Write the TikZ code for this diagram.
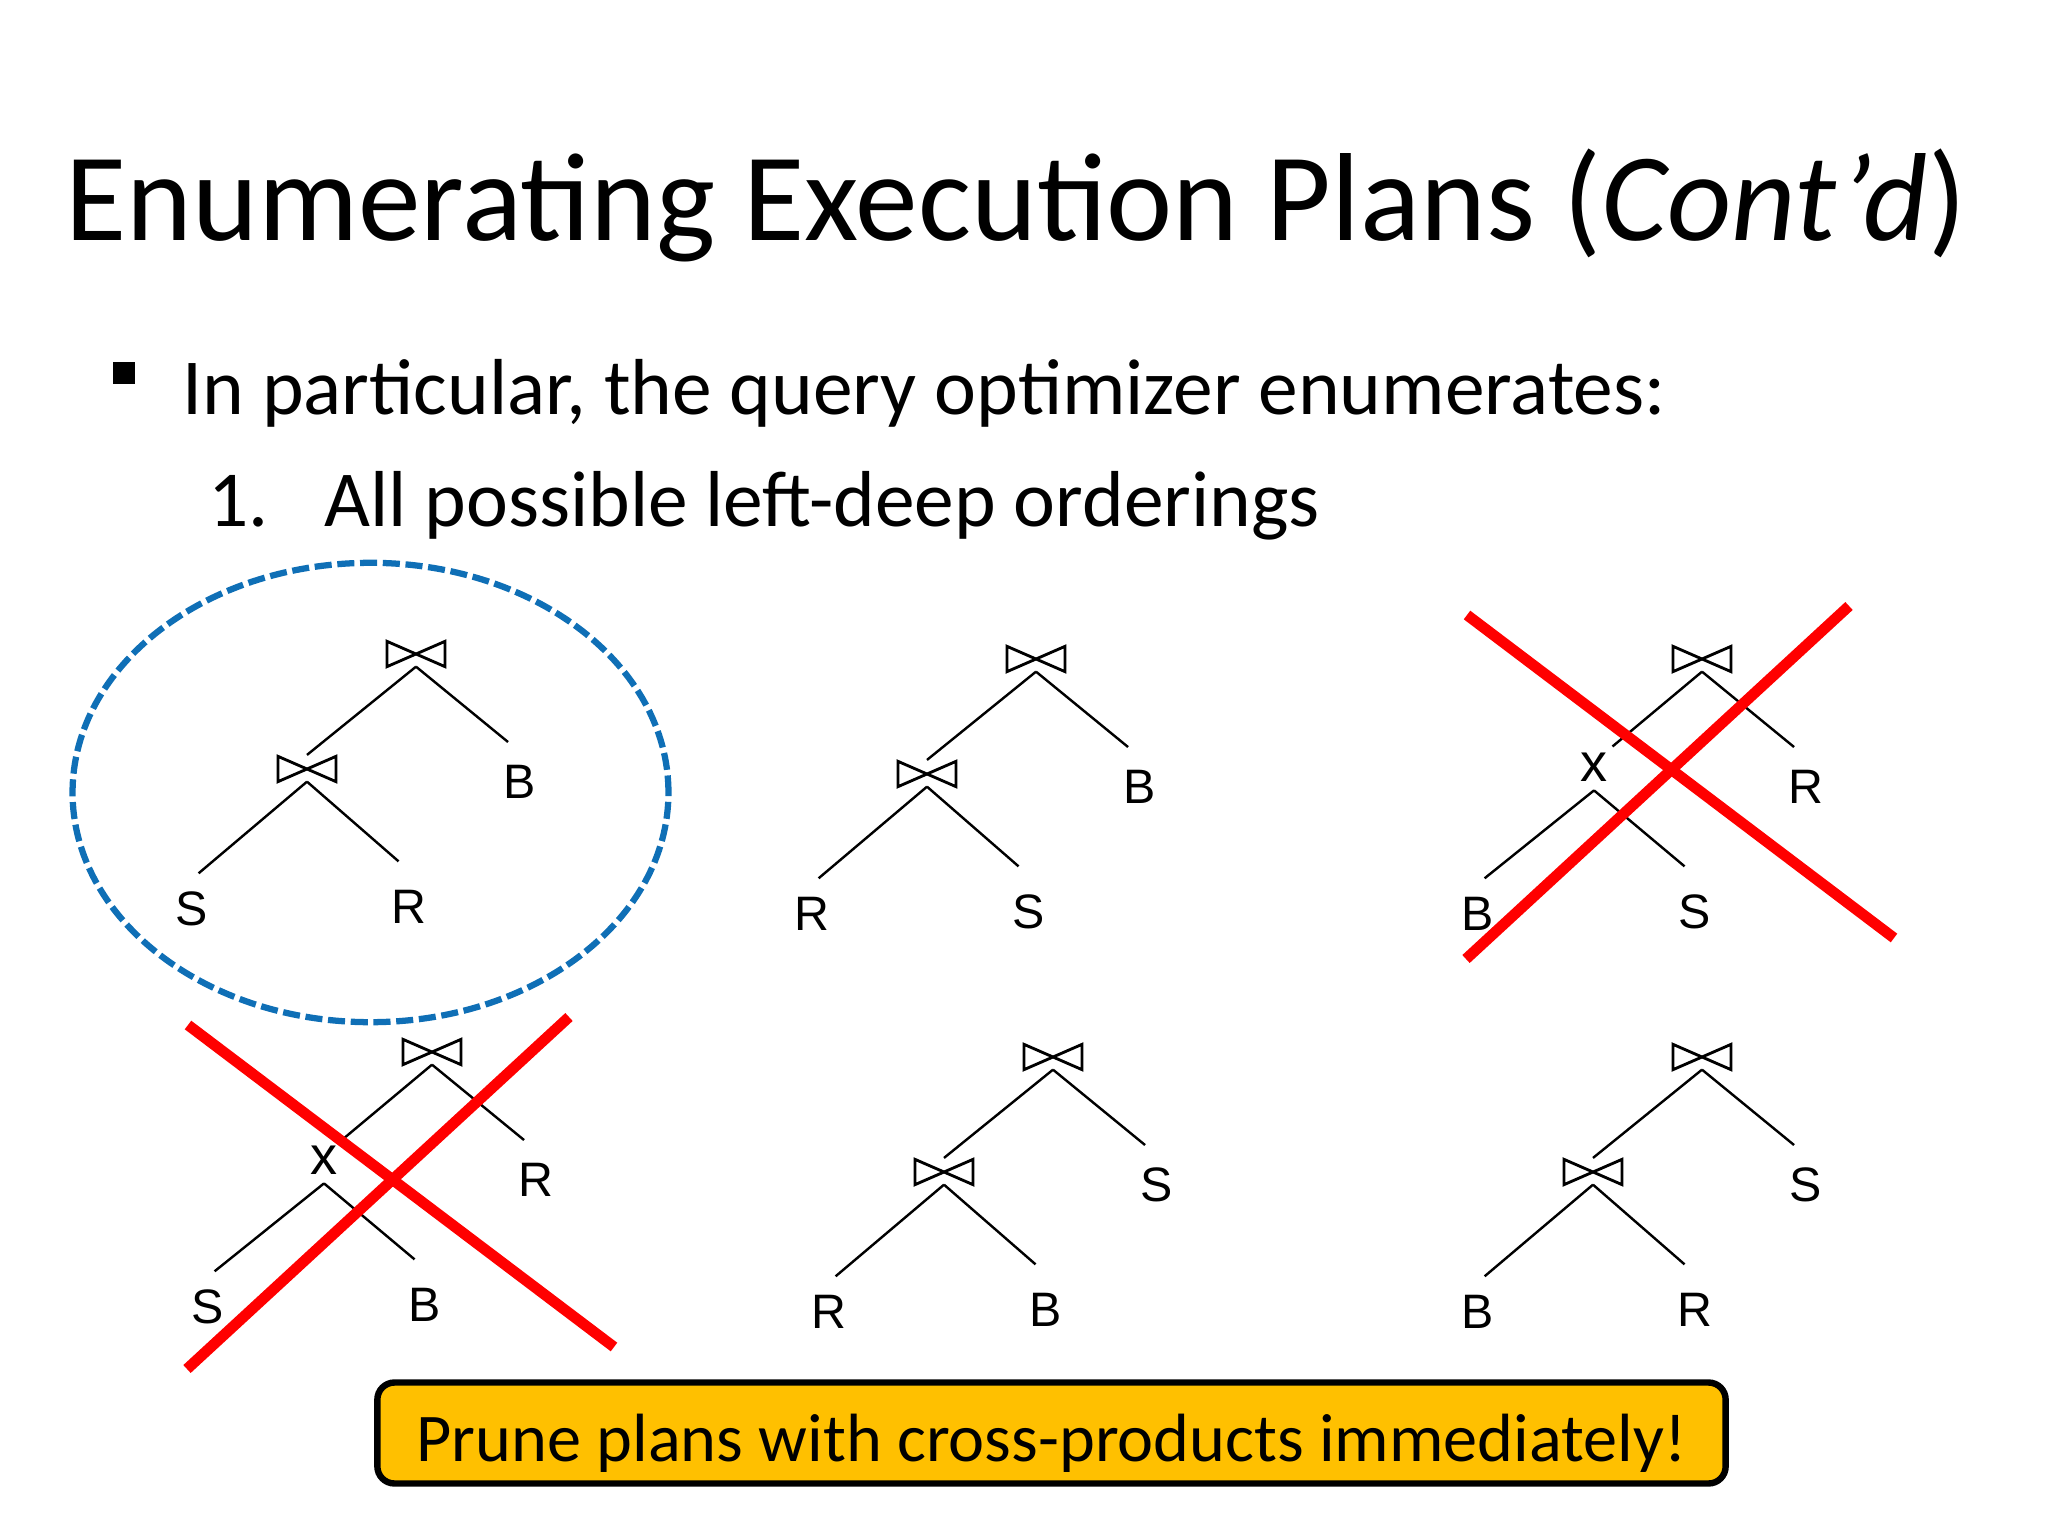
\documentclass[tikz,border=0pt]{standalone}
\usepackage{fontspec}
\setmainfont{Carlito}
\newfontfamily\arialfont{Liberation Sans}
\usetikzlibrary{shapes.geometric}
\definecolor{ovalblue}{HTML}{0F6FB6}
\definecolor{notegold}{HTML}{FFC000}
\tikzset{
  joinbox/.style={minimum width=20pt,minimum height=8.5pt,inner sep=0pt},
  crossbox/.style={font=\arialfont\fontsize{19}{19}\selectfont,inner sep=0pt},
  relname/.style={font=\arialfont\fontsize{17}{17}\selectfont,inner sep=0pt,text height=12pt,text depth=0pt},
  strike/.style={red,line width=3.8pt},
  treeline/.style={line width=0.85pt}
}
\newcommand{\joinmark}[1]{\draw[line width=1pt] (#1.north west) -- (#1.south east) -- (#1.north east) -- (#1.south west) -- cycle;}
% #1 prefix, #2 top x, #3 top y, #4 top right leaf, #5 lower left leaf, #6 lower right leaf
\newcommand{\plan}[6]{
  \node[joinbox] (#1t) at (#2,#3) {}; \joinmark{#1t}
  \node[joinbox] (#1l) at (#2-109,#3+115) {}; \joinmark{#1l}
  \node[relname] (#1c) at (#2+104,#3+127) {#4};
  \node[relname] (#1a) at (#2-224.5,#3+254) {#5};
  \node[relname] (#1b) at (#2-7.5,#3+252) {#6};
  \draw[treeline] (#1t.south) -- ([yshift=0.5pt]#1l.north);
  \draw[treeline] (#1t.south) -- ([xshift=-4.2pt,yshift=7.5pt]#1c.north);
  \draw[treeline] (#1l.south) -- ([xshift=2.5pt,yshift=6pt]#1a.north);
  \draw[treeline] (#1l.south) -- ([xshift=-3.5pt,yshift=9.5pt]#1b.north);
}
\newcommand{\crossplan}[6]{
  \node[joinbox] (#1t) at (#2,#3) {}; \joinmark{#1t}
  \node[crossbox] (#1x) at (#2-108,#3+108) {x};
  \node[relname] (#1c) at (#2+104,#3+127) {#4};
  \node[relname] (#1a) at (#2-224.5,#3+254) {#5};
  \node[relname] (#1b) at (#2-7.5,#3+252) {#6};
  \draw[treeline] (#1t.south) -- ([xshift=6.5pt,yshift=2pt]#1x.north);
  \draw[treeline] (#1t.south) -- ([xshift=-4.2pt,yshift=7.5pt]#1c.north);
  \draw[treeline] ([yshift=-3pt]#1x.south) -- ([xshift=2.5pt,yshift=6pt]#1a.north);
  \draw[treeline] ([yshift=-3pt]#1x.south) -- ([xshift=-3.5pt,yshift=9.5pt]#1b.north);
}
\begin{document}
\begin{tikzpicture}[x=0.3515625pt,y=-0.3515625pt]
  \useasboundingbox (0,0) rectangle (2048,1536);
  \node[anchor=base west,inner sep=0pt,font=\fontsize{44.05}{44}\selectfont] (title) at (65,240.5) {Enumerating Execution Plans (\textit{Cont’d})};
  \node[fill=black,minimum size=8pt,inner sep=0pt] (bullet) at (124,373) {};
  \node[anchor=base west,inner sep=0pt,font=\fontsize{27.92}{28}\selectfont] (item) at (182,415) {In particular, the query optimizer enumerates:};
  \node[anchor=base west,inner sep=0pt,font=\fontsize{27.9}{28}\selectfont] (num) at (208,526.5) {1.};
  \node[anchor=base west,inner sep=0pt,font=\fontsize{27.9}{28}\selectfont] (sub) at (324,526.5) {All possible left-deep orderings};
  \node[draw=ovalblue,dash pattern=on 6pt off 2pt,line width=2.2pt,ellipse,minimum width=209.5pt,minimum height=161.5pt,inner sep=0pt] (oval) at (370.5,792.5) {};
  \plan{p}{416}{654}{B}{S}{R}
  \plan{q}{1036}{659}{B}{R}{S}
  \crossplan{r}{1702}{659}{R}{B}{S}
  \crossplan{u}{432}{1052}{R}{S}{B}
  \plan{v}{1053}{1057}{S}{R}{B}
  \plan{w}{1702}{1057}{S}{B}{R}
  \coordinate (ra) at (1467,615); \coordinate (rb) at (1894,938);
  \coordinate (rc) at (1466,959); \coordinate (rd) at (1849,606);
  \draw[strike] (ra) -- (rb);
  \draw[strike] (rc) -- (rd);
  \coordinate (ua) at (188,1025); \coordinate (ub) at (614,1347);
  \coordinate (uc) at (187,1369); \coordinate (ud) at (569,1017);
  \draw[strike] (ua) -- (ub);
  \draw[strike] (uc) -- (ud);
  \node[draw=black,fill=notegold,line width=2.25pt,rounded corners=6pt,minimum width=474pt,minimum height=35.5pt,inner sep=0pt,text height=20pt,text depth=0pt,font=\fontsize{24}{24}\selectfont] (note) at (1051.5,1433) {Prune plans with cross-products immediately!};
\end{tikzpicture}
\end{document}
